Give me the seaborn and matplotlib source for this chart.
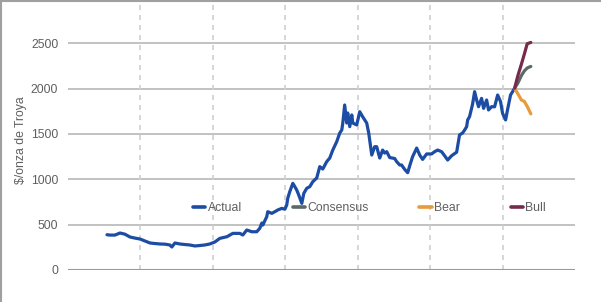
import matplotlib
matplotlib.use("Agg")
import matplotlib.pyplot as plt
import seaborn as sns
import pandas as pd
from matplotlib.lines import Line2D

# ---- data ----
actual_year = [1995.19, 1995.40, 1995.74, 1996.09, 1996.43, 1996.78, 1997.12, 1997.47, 1997.81, 1998.16,
               1998.50, 1998.84, 1999.19, 1999.53, 1999.67, 1999.88, 2000.22, 2000.57, 2000.91, 2001.26,
               2001.60, 2001.95, 2002.29, 2002.64, 2002.98, 2003.47, 2003.88, 2004.36, 2004.57, 2004.84,
               2005.19, 2005.53, 2005.74, 2005.88, 2005.95, 2006.22, 2006.29, 2006.57, 2006.78, 2006.98,
               2007.26, 2007.47, 2007.60, 2007.67, 2007.81, 2008.02, 2008.16, 2008.29, 2008.43, 2008.64,
               2008.78, 2008.98, 2009.19, 2009.40, 2009.67, 2009.88, 2010.09, 2010.36, 2010.57, 2010.78,
               2011.05, 2011.26, 2011.40, 2011.47, 2011.60, 2011.74, 2011.81, 2011.95, 2012.09, 2012.16,
               2012.43, 2012.64, 2012.84, 2013.12, 2013.26, 2013.47, 2013.67, 2013.81, 2014.02, 2014.22,
               2014.36, 2014.50, 2014.71, 2015.05, 2015.19, 2015.40, 2015.53, 2015.74, 2015.95, 2016.09,
               2016.29, 2016.57, 2016.78, 2016.98, 2017.26, 2017.60, 2017.81, 2018.02, 2018.29, 2018.50,
               2018.71, 2018.98, 2019.33, 2019.53, 2019.74, 2019.88, 2020.02, 2020.09, 2020.22, 2020.43,
               2020.57, 2020.71, 2020.84, 2021.05, 2021.19, 2021.40, 2021.53, 2021.74, 2021.95, 2022.16,
               2022.36, 2022.50, 2022.71, 2022.84, 2023.05, 2023.19, 2023.33]
actual_price = [389, 385, 385, 408, 395, 364, 352, 342, 320, 298,
                292, 287, 285, 276, 254, 298, 287, 281, 276, 265,
                270, 276, 287, 309, 349, 367, 404, 404, 386, 441,
                422, 422, 460, 518, 496, 588, 643, 625, 643, 662,
                680, 670, 717, 791, 864, 956, 919, 882, 827, 735,
                846, 901, 919, 974, 1015, 1140, 1114, 1195, 1235, 1323,
                1415, 1511, 1544, 1621, 1820, 1621, 1732, 1581, 1710, 1621,
                1600, 1746, 1691, 1621, 1511, 1268, 1360, 1360, 1235, 1323,
                1290, 1305, 1240, 1230, 1195, 1158, 1158, 1110, 1073, 1150,
                1250, 1345, 1268, 1220, 1280, 1280, 1305, 1323, 1305, 1260,
                1213, 1260, 1300, 1490, 1511, 1544, 1581, 1655, 1691, 1830,
                1967, 1875, 1801, 1893, 1783, 1875, 1765, 1801, 1800, 1930,
                1857, 1728, 1655, 1765, 1930, 1967, 2004]

forecast_year = [2023.33, 2023.55, 2023.80, 2024.00, 2024.20, 2024.45]
consensus_price = [2004, 2060, 2145, 2195, 2228, 2245]
bear_price = [2004, 1945, 1875, 1860, 1805, 1722]
bull_price = [2004, 2140, 2270, 2380, 2495, 2510]

series_names = ["Actual", "Consensus", "Bear", "Bull"]
series_colors = ["#1c4ca3", "#5d6868", "#e89a3c", "#762a4c"]
y_ticks = [0, 500, 1000, 1500, 2000, 2500, 3000]
y_label = "$/onza de Troya"

# ---- build long table ----
frames = [pd.DataFrame({"year": actual_year, "price": actual_price, "series": "Actual"})]
for name, vals in zip(["Consensus", "Bear", "Bull"], [consensus_price, bear_price, bull_price]):
    frames.append(pd.DataFrame({"year": forecast_year, "price": vals, "series": name}))
df = pd.concat(frames, ignore_index=True)

sns.set_theme(style="white")
plt.rcParams["font.family"] = ["Liberation Sans", "DejaVu Sans"]

W, H = 601, 302
fig = plt.figure(figsize=(W / 100, H / 100), dpi=100)
ax = fig.add_axes([68 / W, 32 / H, 507 / W, 272 / H])

# grid
for yv in y_ticks[1:]:
    ax.axhline(yv, color="#bdbdbd", lw=1.3, zorder=0)
ax.axhline(0, color="#9a9a9a", lw=1.5, zorder=1)
for xv in [1997.5, 2002.5, 2007.5, 2012.5, 2017.5, 2022.5]:
    ax.axvline(xv, color="#cfcfcf", lw=1.2, ls=(0, (3, 3)), zorder=0)

palette = dict(zip(series_names, series_colors))
sns.lineplot(data=df, x="year", y="price", hue="series", hue_order=series_names,
             palette=palette, ax=ax, lw=2.3, legend=False, sort=False, zorder=3)

ax.set_xlim(1992.5, 2027.5)
ax.set_ylim(0, 3000)
ax.set_yticks(y_ticks)
ax.set_yticklabels([str(t) for t in y_ticks])
ax.set_xticks([])
ax.tick_params(axis="y", length=0, pad=7, labelsize=8.8, labelcolor="#5f5f5f")
ax.set_xlabel("")
ax.set_ylabel("")
for s in ax.spines.values():
    s.set_visible(False)

fig.text(21 / W, 1 - 140 / H, y_label, rotation=90, ha="center", va="center",
         fontsize=8.8, color="#5f5f5f")

handles = [Line2D([0], [0], color=c, lw=2.6) for c in series_colors]
leg = ax.legend(handles, series_names, ncol=4, loc="center left",
                bbox_to_anchor=((193 - 68) / 507, (270 - 208) / 272),
                frameon=False, fontsize=8.8, handlelength=1.0, handletextpad=0.2,
                columnspacing=4.15, borderpad=0, borderaxespad=0)
for t in leg.get_texts():
    t.set_color("#5f5f5f")

# outer border (left and top)
fig.add_artist(Line2D([0.5 / W, 0.5 / W], [0, 1], transform=fig.transFigure, color="#a0a0a0", lw=1.5))
fig.add_artist(Line2D([0, 1], [1 - 0.5 / H, 1 - 0.5 / H], transform=fig.transFigure, color="#a0a0a0", lw=1.5))

fig.savefig("out.png", dpi=100)
